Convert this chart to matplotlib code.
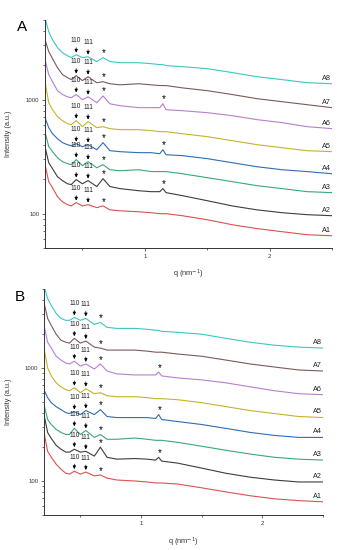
import matplotlib
matplotlib.use('Agg')
import matplotlib.pyplot as plt
from matplotlib.ticker import FixedLocator, LogLocator, NullFormatter

plt.rcParams['font.family'] = ['Liberation Sans', 'DejaVu Sans']

# scattering vector q (nm^-1)
q = [0.20, 0.23, 0.26, 0.30, 0.34, 0.38, 0.41, 0.45, 0.50, 0.545, 0.615, 0.665,
     0.72, 0.80, 0.95, 1.05, 1.12, 1.145, 1.17, 1.30, 1.50, 1.70, 1.90, 2.10,
     2.30, 2.50]

samples = ['A1', 'A2', 'A3', 'A4', 'A5', 'A6', 'A7', 'A8']
colors = ['#d9534f', '#3d3d3d', '#3aa878', '#2f6db5', '#c9b12a', '#b77fd1', '#7a5b5b', '#3cc6c6']

q_110 = 0.45
q_111 = 0.545
q_star = 0.665
q_star2 = 1.145
star2_samples = ['A2', 'A4', 'A6']

# panel A intensities (a.u.)
A1_a = [269, 191, 169, 141, 127, 120, 117, 125, 117, 120, 113, 117, 108, 106, 104, 102,
        100, 100, 100, 96, 88.5, 80, 74, 69.5, 65.4, 64]
A2_a = [387, 280, 248, 211, 195, 183, 180, 199, 183, 195, 173, 203, 173, 166, 159, 156,
        156, 166, 153, 144, 130, 117, 108, 102, 98, 96]
A3_a = [524, 387, 350, 310, 286, 275, 269, 298, 264, 286, 253, 269, 243, 238, 243, 234,
        234, 234, 234, 224, 207, 191, 176, 166, 156, 153]
A4_a = [695, 568, 503, 455, 420, 403, 395, 411, 387, 403, 364, 420, 357, 350, 343, 343,
        336, 364, 329, 323, 304, 280, 258, 243, 234, 224]
A5_a = [1440, 941, 817, 710, 655, 616, 604, 655, 580, 642, 568, 580, 557, 546, 546, 535,
        524, 524, 524, 503, 474, 437, 403, 379, 357, 350]
A6_a = [2240, 1660, 1440, 1200, 1110, 1060, 1040, 1110, 1000, 1060, 940, 1080, 920, 886,
        851, 851, 851, 922, 817, 801, 769, 724, 668, 629, 580, 557]
A7_a = [3360, 2640, 2290, 1910, 1660, 1560, 1500, 1625, 1470, 1590, 1408, 1438, 1380,
        1350, 1380, 1350, 1330, 1330, 1330, 1270, 1200, 1110, 1020, 960, 904, 851]
A8_a = [5200, 3950, 3360, 2860, 2580, 2430, 2340, 2480, 2340, 2380, 2160, 2340, 2160,
        2110, 2110, 2070, 2030, 2030, 1990, 1950, 1870, 1730, 1590, 1500, 1410, 1380]

# panel B intensities (a.u.)
A1_b = [269, 183, 162, 141, 127, 117, 115, 122, 115, 120, 111, 113, 106, 102, 100, 98,
        96, 96, 96, 94, 87, 80, 74, 69.5, 67, 65.4]
A2_b = [387, 269, 238, 207, 191, 180, 180, 191, 180, 183, 166, 199, 162, 156, 158, 156,
        153, 162, 150, 144, 130, 117, 108, 102, 98, 98]
A3_b = [474, 350, 316, 286, 269, 258, 258, 292, 258, 280, 243, 258, 234, 234, 240, 234,
        229, 229, 229, 220, 203, 187, 173, 162, 156, 153]
A4_b = [642, 546, 493, 455, 428, 403, 395, 411, 387, 420, 387, 428, 372, 364, 364, 364,
        357, 387, 350, 336, 316, 292, 269, 253, 243, 243]
A5_b = [1500, 1000, 851, 739, 681, 642, 629, 668, 604, 655, 592, 604, 568, 557, 557, 546,
        535, 535, 535, 524, 493, 455, 420, 395, 372, 364]
A6_b = [2380, 1690, 1500, 1270, 1175, 1105, 1085, 1150, 1040, 1085, 980, 1085, 940, 886,
        868, 868, 868, 922, 851, 817, 785, 739, 681, 629, 592, 580]
A7_b = [3790, 2745, 2380, 1990, 1760, 1690, 1660, 1830, 1660, 1730, 1530, 1500, 1440,
        1440, 1440, 1410, 1380, 1380, 1380, 1330, 1270, 1175, 1085, 1020, 960, 940]
A8_b = [5350, 4110, 3570, 3040, 2745, 2640, 2640, 2800, 2640, 2745, 2430, 2530, 2290,
        2240, 2240, 2200, 2155, 2155, 2110, 2070, 1990, 1830, 1690, 1590, 1530, 1500]

panel_a = [A1_a, A2_a, A3_a, A4_a, A5_a, A6_a, A7_a, A8_a]
panel_b = [A1_b, A2_b, A3_b, A4_b, A5_b, A6_b, A7_b, A8_b]


def draw_panel(ax, curves):
    for name, vals, col in zip(samples, curves, colors):
        ax.plot(q, vals, color=col, lw=0.8)
        # hkl peaks
        for qp, txt in [(q_110, '110'), (q_111, '111')]:
            i = q.index(qp)
            ax.annotate(txt, xy=(qp, vals[i]), xytext=(0, 7.5), textcoords='offset points',
                        ha='center', va='bottom', fontsize=4.7, color='#222222',
                        arrowprops=dict(arrowstyle='-|>', color='black', lw=0.55,
                                        shrinkA=0.5, shrinkB=1.5, mutation_scale=4.5,
                                        relpos=(0.5, 0)))
        stars = [q_star]
        if name in star2_samples:
            stars.append(q_star2)
        for qs in stars:
            i = q.index(qs)
            ax.annotate('*', xy=(qs, vals[i]), xytext=(0.5, -0.5), textcoords='offset points',
                        ha='center', va='bottom', fontsize=7, color='black')
        ax.annotate(name, xy=(q[-1], vals[-1]), xytext=(-1, 1.5), textcoords='offset points',
                    ha='right', va='bottom', fontsize=5.2, color='#222222')

    ax.set_yscale('log')
    ax.set_xlim(0.2, 2.5)
    ax.set_ylim(50, 5000)
    for s in ['top', 'right']:
        ax.spines[s].set_visible(False)
    for s in ['left', 'bottom']:
        ax.spines[s].set_linewidth(0.7)
        ax.spines[s].set_color('#333333')
    ax.xaxis.set_major_locator(FixedLocator([1, 2]))
    ax.xaxis.set_minor_locator(FixedLocator([0.5, 1.5, 2.5]))
    ax.yaxis.set_major_locator(FixedLocator([100, 1000]))
    ax.yaxis.set_major_formatter(plt.FuncFormatter(lambda v, p: '%d' % v))
    ax.yaxis.set_minor_locator(LogLocator(base=10, subs=range(2, 10)))
    ax.yaxis.set_minor_formatter(NullFormatter())
    ax.tick_params(which='major', length=2.5, width=0.5, labelsize=4.3, pad=1.5, colors='#333333')
    ax.tick_params(which='minor', length=1.5, width=0.5, colors='#333333')
    ax.set_ylabel('Intensity (a.u.)', fontsize=5.3, color='#333333')
    ax.set_xlabel(r'q (nm$^{-1}$)', fontsize=5.3, color='#333333')


fig = plt.figure(figsize=(3.43, 5.5), dpi=100)
ax_a = fig.add_axes([45 / 343, 1 - 248 / 550, 287 / 343, 228 / 550])
ax_b = fig.add_axes([44 / 343, 1 - 515 / 550, 279 / 343, 226 / 550])

draw_panel(ax_a, panel_a)
draw_panel(ax_b, panel_b)

ax_a.yaxis.set_label_coords(-0.115, 0.5)
ax_b.yaxis.set_label_coords(-0.115, 0.5)
ax_a.xaxis.set_label_coords(0.5, -0.088)
ax_b.xaxis.set_label_coords(0.5, -0.093)

fig.text(22 / 343, 1 - 27 / 550, 'A', fontsize=11, ha='center', va='center')
fig.text(20 / 343, 1 - 297 / 550, 'B', fontsize=11, ha='center', va='center')

fig.savefig('out.png', dpi=100)
